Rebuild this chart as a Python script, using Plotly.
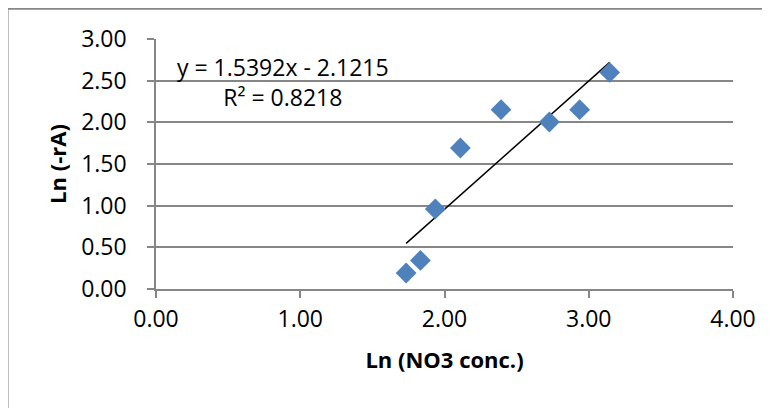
import plotly.graph_objects as go

# Data
ln_no3 = [1.734, 1.833, 1.936, 2.110, 2.392, 2.727, 2.937, 3.145]
ln_ra = [0.192, 0.343, 0.960, 1.692, 2.152, 2.004, 2.152, 2.599]

# Trendline as stated on the chart
slope = 1.5392
intercept = -2.1215
r_squared = 0.8218

x_ticks = [0, 1, 2, 3, 4]
y_ticks = [0, 0.5, 1, 1.5, 2, 2.5, 3]

FONT = "Open Sans"
GRID = "#868686"

trend_x = [min(ln_no3), max(ln_no3)]
trend_y = [slope * v + intercept for v in trend_x]

fig = go.Figure()
fig.add_trace(go.Scatter(
    x=trend_x, y=trend_y, mode="lines",
    line=dict(color="black", width=1.5), hoverinfo="skip", showlegend=False,
))
fig.add_trace(go.Scatter(
    x=ln_no3, y=ln_ra, mode="markers",
    marker=dict(symbol="diamond", size=16, color="#4F81BD", line=dict(width=0)),
    showlegend=False,
))

fig.add_annotation(
    x=0.877, y=2.48, xref="x", yref="y", xanchor="center", yanchor="middle",
    text=f"y = {slope}x - {abs(intercept)}<br>R² = {r_squared}",
    showarrow=False, align="center",
    font=dict(family=FONT, size=23, color="black"),
)

fig.add_shape(
    type="rect", xref="paper", yref="paper",
    x0=-0.2573, x1=1.2, y0=-0.6, y1=1.1212,
    line=dict(color=GRID, width=2), fillcolor="rgba(0,0,0,0)", layer="below",
)

fig.update_layout(
    width=770, height=408,
    margin=dict(l=147.5, r=45.3, t=31.3, b=126.7, autoexpand=False),
    paper_bgcolor="white", plot_bgcolor="white",
    font=dict(family=FONT, size=23, color="black"),
    xaxis=dict(
        range=[0, 4], tickvals=x_ticks, ticktext=[f"{v:.2f}" for v in x_ticks],
        showgrid=False, zeroline=False, showline=True, linecolor=GRID, linewidth=1.5,
        ticks="outside", ticklen=7, tickcolor=GRID, tickwidth=1.5, automargin=False,
        ticklabelstandoff=2,
        title=dict(text="<b>Ln (NO3 conc.)</b>", font=dict(family=FONT, size=22), standoff=19),
    ),
    yaxis=dict(
        range=[0, 3], tickvals=y_ticks, ticktext=[f"{v:.2f}" for v in y_ticks],
        showgrid=True, gridcolor=GRID, gridwidth=1.5, zeroline=False,
        showline=True, linecolor=GRID, linewidth=1.5,
        ticks="outside", ticklen=7, tickcolor=GRID, tickwidth=1.5, automargin=False,
        ticklabelstandoff=16,
        title=dict(text="<b>Ln (-rA)</b>", font=dict(family=FONT, size=22), standoff=8),
    ),
)

fig.write_html("out.html")
